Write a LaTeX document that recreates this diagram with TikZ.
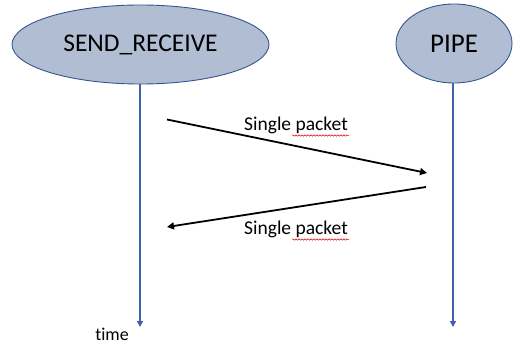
\documentclass[tikz,border=0pt]{standalone}
\usepackage{fontspec}
\setmainfont{Carlito}[Ligatures=NoCommon]
\usetikzlibrary{shapes.geometric,arrows.meta,decorations.pathmorphing}
\definecolor{procfill}{HTML}{B1BDD2}
\definecolor{procdraw}{HTML}{35568F}
\definecolor{lifeline}{HTML}{3F62A8}
\tikzset{
  proc/.style={ellipse, draw=procdraw, line width=0.9pt, fill=procfill,
    inner sep=0pt, text=black},
  life/.style={draw=lifeline, line width=1.4pt, -{Triangle[length=6pt,width=6pt]}},
  msg/.style={draw=black, line width=1.8pt, -{Triangle[length=7pt,width=7pt]}},
  msglabel/.style={font=\fontsize{19.5}{22}\selectfont, anchor=base},
  spell/.style={draw=red!85!black, line width=0.5pt,
    decorate, decoration={snake, amplitude=0.7pt, segment length=3pt}}
}
\begin{document}
\begin{tikzpicture}[x=1pt,y=-1pt]
  \useasboundingbox (0,0) rectangle (516,347);

  % processes
  \node[proc, minimum width=257pt, minimum height=79pt,
        font=\fontsize{25.5}{28}\selectfont] (sr) at (140.5,44.5) {SEND\_RECEIVE};
  \node[proc, minimum width=116pt, minimum height=79pt,
        font=\fontsize{27}{30}\selectfont] (pipe) at (454,43.5) {PIPE};

  % lifelines
  \coordinate (srEnd) at (140,327);
  \coordinate (pipeEnd) at (453,327);
  \draw[life] (sr.south -| srEnd) -- (srEnd);
  \draw[life] (pipe.south -| pipeEnd) -- (pipeEnd);
  \node[font=\fontsize{18}{20}\selectfont, anchor=base] (time) at (112,340) {time};

  % messages
  \coordinate (m1s) at (167,119.5);
  \coordinate (m1e) at (427,173);
  \coordinate (m2s) at (426,187);
  \coordinate (m2e) at (167,227);
  \draw[msg] (m1s) -- (m1e);
  \draw[msg] (m2s) -- (m2e);

  \node[msglabel] (l1) at (296,131) {Single packet};
  \node[msglabel] (l2) at (296,235) {Single packet};

  % spell-check marks under "packet"
  \draw[spell] (292,135.5) -- (349,135.5);
  \draw[spell] (292,239.5) -- (349,239.5);
\end{tikzpicture}
\end{document}
